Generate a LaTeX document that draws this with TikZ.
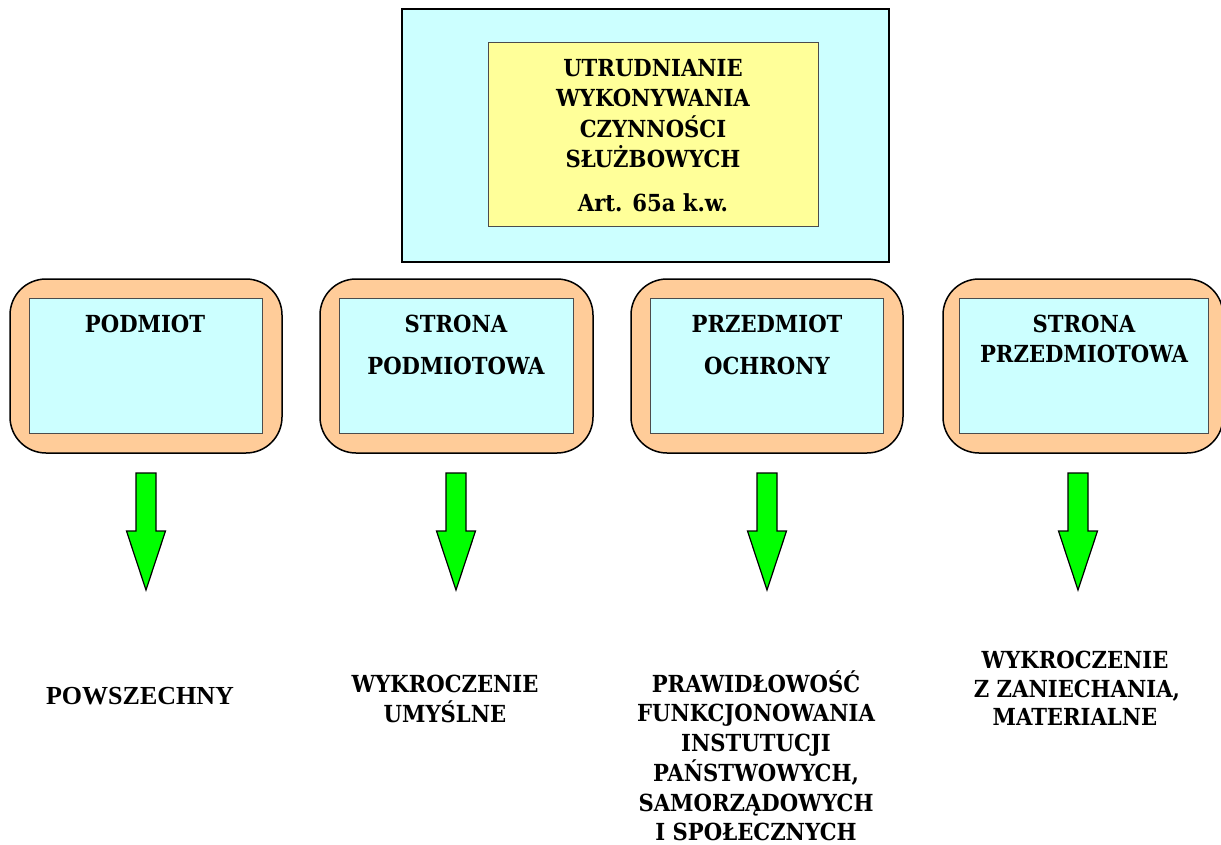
\documentclass[tikz,border=0pt]{standalone}
\usepackage{fontspec}
\usetikzlibrary{calc}
\setmainfont{DejaVu Serif Condensed}
\newfontfamily\timesf{Liberation Serif}
\definecolor{peach}{HTML}{FFCC99}
\definecolor{paleblue}{HTML}{CCFFFF}
\definecolor{paleyellow}{HTML}{FFFF99}
\definecolor{brightgreen}{HTML}{00FF00}
\tikzset{
  outerbox/.style={draw=black, line width=1.5pt, fill=peach, rounded corners=36pt, minimum width=272pt, minimum height=174pt, inner sep=0pt},
  innerbox/.style={draw=black!70, line width=1pt, fill=paleblue, minimum width=233pt, minimum height=135pt, inner sep=0pt},
  txt/.style={font=\bfseries\fontsize{23.5}{30}\selectfont, anchor=base, inner sep=0pt},
  timestxt/.style={font=\timesf\bfseries\fontsize{26}{30}\selectfont, anchor=base, inner sep=0pt},
  greenarrow/.style={draw=black, line width=1.2pt, fill=brightgreen, line join=miter},
}
\begin{document}
\begin{tikzpicture}[x=1pt,y=-1pt]
\useasboundingbox (0,0) rectangle (1221,845);
% top box
\node[draw=black, line width=1.5pt, fill=paleblue, minimum width=487pt, minimum height=253pt, inner sep=0pt] (top) at (645.5,135.5) {};
\node[draw=black!70, line width=1pt, fill=paleyellow, minimum width=330pt, minimum height=184pt, inner sep=0pt] (title) at (653,135) {};
\node[txt] (t1) at (653,77) {UTRUDNIANIE};
\node[txt] (t2) at (653,107) {WYKONYWANIA};
\node[txt] (t3) at (653,138) {CZYNNOŚCI};
\node[txt] (t4) at (653,168) {SŁUŻBOWYCH};
\node[txt] (t5) at (653,212) {Art. 65a k.w.};
% four boxes
\node[outerbox] (o1) at (146,366) {};
\node[innerbox] (i1) at (145.5,365.5) {};
\node[outerbox, minimum width=273pt] (o2) at (456.5,366) {};
\node[innerbox, minimum width=234pt] (i2) at (456,365.5) {};
\node[outerbox] (o3) at (767,366) {};
\node[innerbox] (i3) at (766.5,365.5) {};
\node[outerbox, minimum width=280pt] (o4) at (1083,366) {};
\node[innerbox, minimum width=249pt] (i4) at (1083.5,365.5) {};
\node[txt] (b1a) at (145,332) {PODMIOT};
\node[txt] (b2a) at (456,332) {STRONA};
\node[txt] (b2b) at (456,374) {PODMIOTOWA};
\node[txt] (b3a) at (767,332) {PRZEDMIOT};
\node[txt] (b3b) at (767,374) {OCHRONY};
\node[txt] (b4a) at (1084,332) {STRONA};
\node[txt] (b4b) at (1084,362) {PRZEDMIOTOWA};
% arrows
\foreach \cx/\nm in {146/a1,456/a2,767/a3,1078/a4}{
  \coordinate (\nm) at (\cx,473);
  \draw[greenarrow] ($(\nm)+(-10,0)$) -- ($(\nm)+(-10,58)$) -- ($(\nm)+(-19.5,58)$)
     -- ($(\nm)+(0,117)$) -- ($(\nm)+(19.5,58)$) -- ($(\nm)+(10,58)$) -- ($(\nm)+(10,0)$) -- cycle;
}
% bottom texts
\node[timestxt] (c1) at (140,704) {POWSZECHNY};
\node[txt] (c2a) at (445,692) {WYKROCZENIE};
\node[txt] (c2b) at (445,722) {UMYŚLNE};
\node[txt] (c3a) at (756,692) {PRAWIDŁOWOŚĆ};
\node[txt] (c3b) at (756,721) {FUNKCJONOWANIA};
\node[txt] (c3c) at (756,751) {INSTUTUCJI};
\node[txt] (c3d) at (756,781) {PAŃSTWOWYCH,};
\node[txt] (c3e) at (756,811) {SAMORZĄDOWYCH};
\node[txt] (c3f) at (756,840) {I SPOŁECZNYCH};
\node[txt] (c4a) at (1075,668) {WYKROCZENIE};
\node[txt] (c4b) at (1077,697) {Z ZANIECHANIA,};
\node[txt] (c4c) at (1075,725) {MATERIALNE};
\end{tikzpicture}
\end{document}
